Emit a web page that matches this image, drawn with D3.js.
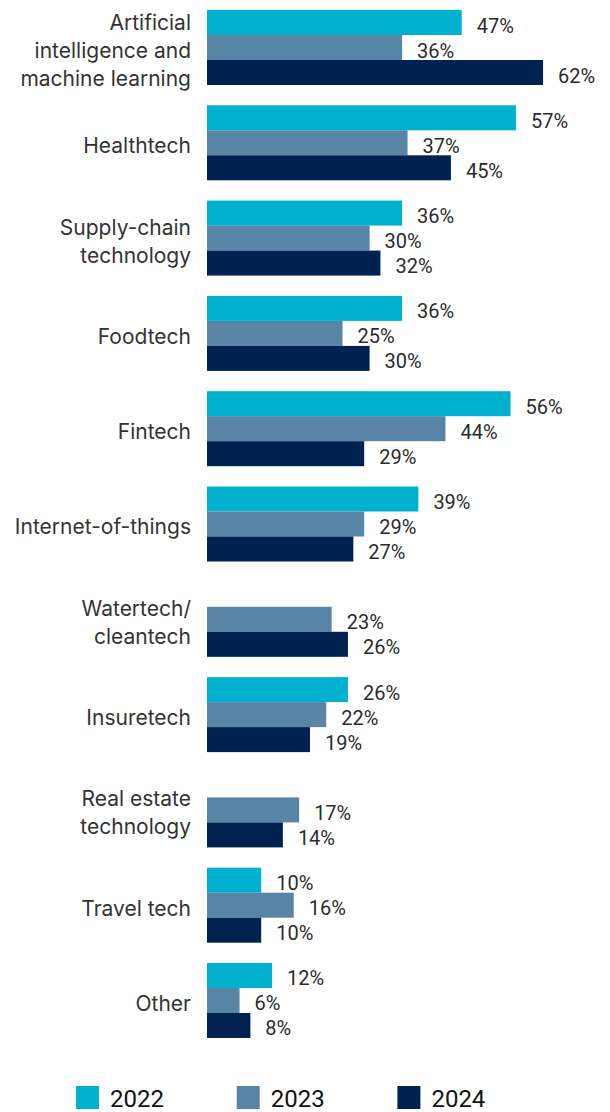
<!DOCTYPE html>
<html>
<head>
<meta charset="utf-8">
<script src="https://cdn.jsdelivr.net/npm/d3@7"></script>
<style>
  html, body { margin: 0; padding: 0; background: #fff; }
  svg { display: block; }
</style>
</head>
<body>
<svg id="chart" width="610" height="1112"></svg>
<script>
// Technology areas (line breaks mark where each label wraps)
const categories = [
  "Artificial\nintelligence and\nmachine learning",
  "Healthtech",
  "Supply-chain\ntechnology",
  "Foodtech",
  "Fintech",
  "Internet-of-things",
  "Watertech/\ncleantech",
  "Insuretech",
  "Real estate\ntechnology",
  "Travel tech",
  "Other"
];

const years = ["2022", "2023", "2024"];

// Share of respondents (%) per year; null = not asked that year
const values2022 = [47, 57, 36, 36, 56, 39, null, 26, null, 10, 12];
const values2023 = [36, 37, 30, 25, 44, 29, 23, 22, 17, 16, 6];
const values2024 = [62, 45, 32, 30, 29, 27, 26, 19, 14, 10, 8];

const yearColors = ["#00B1CF", "#5884A5", "#002251"];

const series = [values2022, values2023, values2024];

const svg = d3.select("#chart");

const x = d3.scaleLinear().domain([0, 100]).range([207, 207 + 542]);

const y = d3.scaleBand()
  .domain(categories)
  .range([10, 1038])
  .paddingInner(0.213)
  .paddingOuter(0);

const ySub = d3.scaleBand()
  .domain(years)
  .range([0, y.bandwidth()])
  .padding(0);

const color = d3.scaleOrdinal().domain(years).range(yearColors);

// One group per category
const groups = svg.append("g")
  .selectAll("g")
  .data(categories)
  .join("g")
  .attr("transform", d => `translate(0,${y(d)})`);

const cells = groups.selectAll("g.cell")
  .data((cat, i) => years.map((yr, j) => ({ year: yr, value: series[j][i] }))
    .filter(d => d.value != null))
  .join("g")
  .attr("class", "cell");

cells.append("rect")
  .attr("x", x(0))
  .attr("y", d => ySub(d.year))
  .attr("width", d => x(d.value) - x(0))
  .attr("height", ySub.bandwidth())
  .attr("fill", d => color(d.year));

cells.append("text")
  .attr("x", d => x(d.value) + 15)
  .attr("y", d => ySub(d.year) + ySub.bandwidth() / 2 + 10)
  .attr("font-family", "Roboto, sans-serif")
  .attr("font-size", 20)
  .attr("fill", "#2b2b2b")
  .text(d => d.value + "%");

// Category labels, right-aligned left of the bars
const lineH = 28;
groups.append("text")
  .attr("text-anchor", "end")
  .attr("font-family", "Inter, sans-serif")
  .attr("font-size", 21)
  .attr("fill", "#333")
  .each(function (d) {
    const lines = d.split("\n");
    const mid = y.bandwidth() / 2 + 3;
    const first = mid + 7.5 - (lines.length - 1) * lineH / 2;
    d3.select(this).selectAll("tspan")
      .data(lines)
      .join("tspan")
      .attr("x", 191)
      .attr("y", (l, k) => first + k * lineH)
      .text(l => l);
  });

// Legend
const legend = svg.append("g")
  .selectAll("g")
  .data(years)
  .join("g")
  .attr("transform", (d, i) => `translate(${76 + i * 160.7},1086)`);

legend.append("rect")
  .attr("width", 23)
  .attr("height", 23)
  .attr("fill", d => color(d));

legend.append("text")
  .attr("x", 34)
  .attr("y", 21)
  .attr("font-family", "Roboto, sans-serif")
  .attr("font-size", 24)
  .attr("fill", "#111")
  .text(d => d);
</script>
</body>
</html>
